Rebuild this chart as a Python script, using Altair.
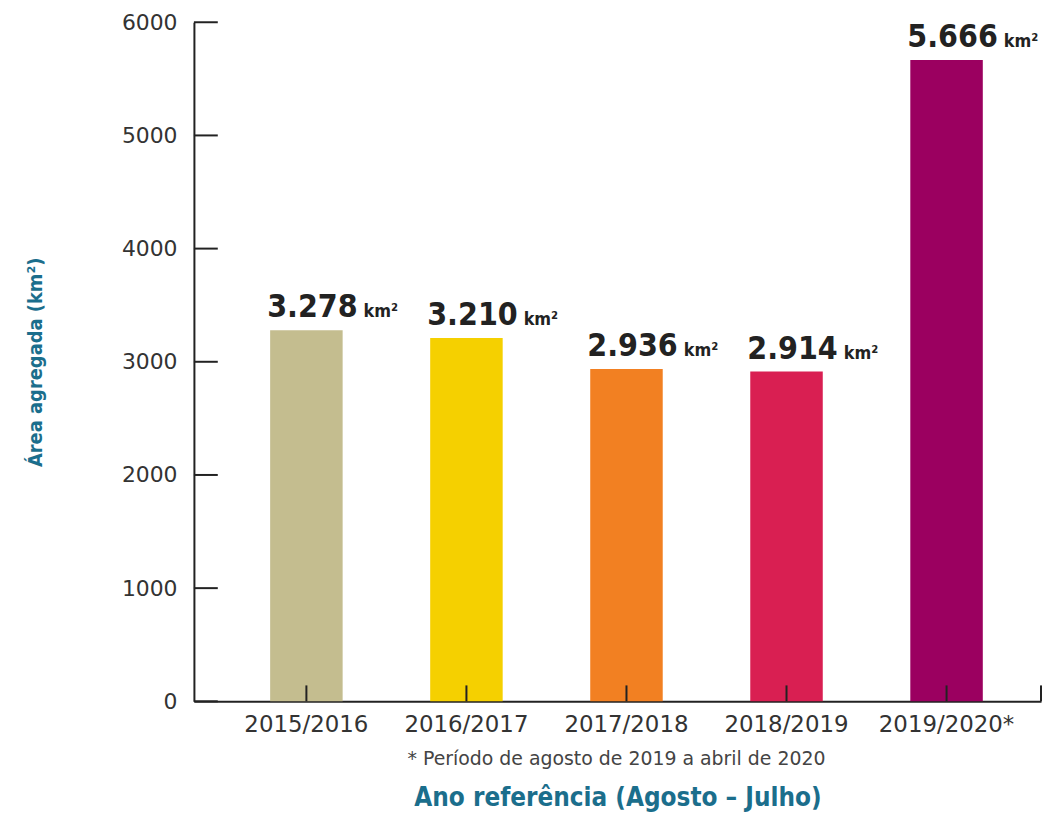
import altair as alt
import pandas as pd

categories = ["2015/2016", "2016/2017", "2017/2018", "2018/2019", "2019/2020*"]
values = [3278, 3210, 2936, 2914, 5666]
value_labels = ["3.278", "3.210", "2.936", "2.914", "5.666"]
unit_label = "km²"
bar_colors = ["#C4BD8F", "#F5D000", "#F28022", "#D91F52", "#9B0060"]
y_ticks = [0, 1000, 2000, 3000, 4000, 5000, 6000]
footnote = "* Período de agosto de 2019 a abril de 2020"
x_title = "Ano referência (Agosto – Julho)"
y_title = "Área agregada (km²)"

W, H = 852, 683
TEAL = "#1B6E8C"
COND = "DejaVu Sans Condensed, Liberation Sans Narrow, sans-serif"

df = pd.DataFrame({"cat": categories, "val": values, "lab": value_labels})
df["unit"] = unit_label
ticks_df = pd.DataFrame({"val": y_ticks})
end_df = pd.DataFrame({"cat": [categories[-1]]})
note_df = pd.DataFrame({"t": [footnote]})

xscale = alt.Scale(domain=categories, paddingInner=0.547, paddingOuter=0.42, align=0.567)
yscale = alt.Scale(domain=[0, 6000], nice=False)

x_axis = alt.Axis(title=x_title, labelAngle=0, ticks=False, tickSize=0,
                  labelPadding=12, labelFontSize=23, labelFont="DejaVu Sans",
                  labelColor="#333333", domainColor="#222222", domainWidth=2,
                  titleFont=COND, titleFontSize=26, titleColor=TEAL,
                  titleFontWeight="bold", titleY=84, titleBaseline="top")
y_axis = alt.Axis(title=y_title, values=y_ticks, format="d", ticks=False, tickSize=0,
                  labelPadding=17, grid=False, labelFontSize=22,
                  labelFont="DejaVu Sans", labelColor="#333333",
                  domainColor="#222222", domainWidth=2,
                  titleFont=COND, titleFontSize=20, titleColor=TEAL,
                  titleFontWeight="bold", titleX=-149, titleY=H / 2,
                  titleBaseline="bottom", titleAlign="center")


def X(**kw):
    return alt.X("cat:N", scale=xscale, sort=categories, axis=x_axis, **kw)


def Y():
    return alt.Y("val:Q", scale=yscale, axis=y_axis)


bars = alt.Chart(df).mark_bar().encode(
    x=X(), y=Y(),
    color=alt.Color("cat:N", scale=alt.Scale(domain=categories, range=bar_colors), legend=None),
)

num_text = alt.Chart(df).mark_text(
    align="left", baseline="alphabetic", dx=-3, dy=-13,
    font=COND, fontSize=32, fontWeight="bold", color="#222222",
).encode(x=X(bandPosition=0), y=Y(), text="lab:N")

unit_text = alt.Chart(df).mark_text(
    align="left", baseline="alphabetic", dx=94, dy=-13,
    font=COND, fontSize=18, fontWeight="bold", color="#222222",
).encode(x=X(bandPosition=0), y=Y(), text="unit:N")

y_tick_rules = alt.Chart(ticks_df).mark_rule(color="#222222", strokeWidth=2).encode(
    x=alt.value(0), x2=alt.value(24), y=Y(),
)

x_tick_rules = alt.Chart(df).mark_rule(color="#222222", strokeWidth=2).encode(
    x=X(), y=alt.value(H - 16), y2=alt.value(H),
)

end_tick = alt.Chart(end_df).mark_rule(color="#222222", strokeWidth=2).encode(
    x=alt.value(W), y=alt.value(H - 16), y2=alt.value(H),
)

note = alt.Chart(note_df).mark_text(
    font="DejaVu Sans", fontSize=19, color="#444444", align="center", baseline="middle",
).encode(text="t:N", x=alt.value(425), y=alt.value(741))

chart = alt.layer(bars, num_text, unit_text, y_tick_rules, x_tick_rules, end_tick, note).properties(
    width=W, height=H,
    padding={"left": 187, "top": 12, "right": 2, "bottom": 110},
    autosize=alt.AutoSizeParams(type="none"),
    background="white",
).configure_view(stroke=None)

chart.save("out.html", embed_options={"renderer": "svg", "actions": False})
